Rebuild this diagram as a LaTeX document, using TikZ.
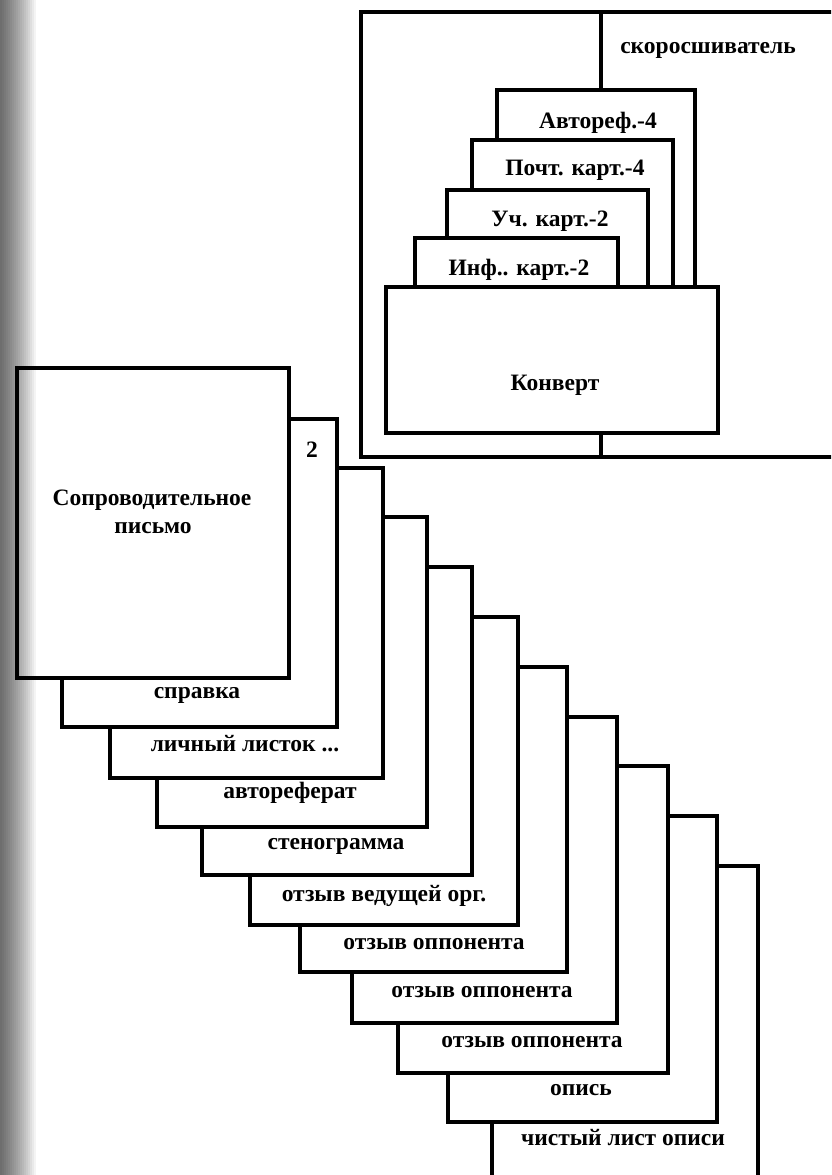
\documentclass[tikz,border=0pt]{standalone}
\usepackage{fontspec}
\setmainfont{Liberation Serif}
\begin{document}
\begin{tikzpicture}[x=1pt,y=-1pt,
  card/.style={draw=black, line width=3.4pt, fill=white, anchor=north west, inner sep=0pt, outer sep=0pt},
  lbl/.style={font=\fontsize{23.5}{26}\selectfont\bfseries, inner sep=0pt, anchor=base, align=center},
]
\clip (0,0) rectangle (831,1175);
\fill[white] (0,0) rectangle (831,1175);
% folder group
\node[card, minimum width=509pt, minimum height=445pt] (folder) at (361,12) {};
\coordinate (dtop) at (601,12);
\coordinate (dbot) at (601,457);
\draw[line width=3.4pt] (dtop) -- (dbot);
\node[card, minimum width=198pt, minimum height=210pt] (avt) at (497,90) {};
\node[card, minimum width=201pt, minimum height=160pt] (poch) at (472,140) {};
\node[card, minimum width=201pt, minimum height=110pt] (uch) at (447,190) {};
\node[card, minimum width=203pt, minimum height=62pt] (inf) at (415,238) {};
\node[card, minimum width=332pt, minimum height=146pt] (konv) at (386,287) {};
\node[lbl] (tfolder) at (708,53) {скоросшиватель};
\node[lbl] (tavt) at (598,128) {Автореф.-4};
\node[lbl] (tpoch) at (575,175) {Почт. карт.-4};
\node[lbl] (tuch) at (550,226) {Уч. карт.-2};
\node[lbl] (tinf) at (519,275) {Инф.. карт.-2};
\node[lbl] (tkonv) at (555,390) {Конверт};
% stack
\node[card, minimum width=266pt, minimum height=330pt] (s10) at (492,866) {};
\node[card, minimum width=269pt, minimum height=306pt] (s9) at (448,816) {};
\node[card, minimum width=270pt, minimum height=307pt] (s8) at (398,766) {};
\node[card, minimum width=265pt, minimum height=306pt] (s7) at (352,717) {};
\node[card, minimum width=267pt, minimum height=305pt] (s6) at (300,667) {};
\node[card, minimum width=268pt, minimum height=308pt] (s5) at (250,617) {};
\node[card, minimum width=270pt, minimum height=308pt] (s4) at (202,567) {};
\node[card, minimum width=270pt, minimum height=310pt] (s3) at (157,517) {};
\node[card, minimum width=273pt, minimum height=310pt] (s2) at (110,468) {};
\node[card, minimum width=275pt, minimum height=308pt] (s1) at (62,419) {};
\node[card, minimum width=272pt, minimum height=310pt] (s0) at (17,368) {};
\node[lbl] (t0a) at (152,505) {Сопроводительное};
\node[lbl] (t0b) at (153,533) {письмо};
\node[lbl] (t1a) at (312,457) {2};
\node[lbl] (t1) at (197,698) {справка};
\node[lbl] (t2) at (245,751) {личный листок ...};
\node[lbl] (t3) at (290,798) {автореферат};
\node[lbl] (t4) at (336,849) {стенограмма};
\node[lbl] (t5) at (384,901) {отзыв ведущей орг.};
\node[lbl] (t6) at (434,949) {отзыв оппонента};
\node[lbl] (t7) at (482,997) {отзыв оппонента};
\node[lbl] (t8) at (532,1047) {отзыв оппонента};
\node[lbl] (t9) at (581,1095) {опись};
\node[lbl] (t10) at (623,1145) {чистый лист описи};
% scan shadow at left edge
\foreach \i in {1,...,18} {
  \fill[black, fill opacity=0.045] (0,0) rectangle (2*\i,1175);
}
\end{tikzpicture}
\end{document}
